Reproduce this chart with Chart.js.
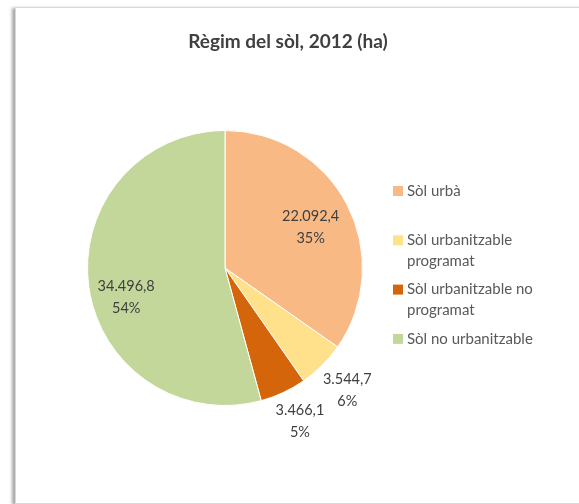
<!DOCTYPE html>
<html>
<head>
<meta charset="utf-8">
<script src="https://cdn.jsdelivr.net/npm/chart.js@4/dist/chart.umd.min.js"></script>
<style>
  html, body { margin: 0; padding: 0; background: #fff; }
  #wrap { position: relative; width: 579px; height: 504px; overflow: hidden; }
  #frame {
    position: absolute; left: 15px; top: 7px; width: 640px; height: 495px;
    border: 1px solid #d9d9d9; box-shadow: -3px 1px 3px rgba(0,0,0,0.35); background: #fff;
  }
  #chart { position: absolute; left: 0; top: 0; }
</style>
</head>
<body>
<div id="wrap">
  <div id="frame"></div>
  <canvas id="chart" width="579" height="504"></canvas>
</div>
<script>
  const TITLE = 'Règim del sòl, 2012 (ha)';
  const categories = ['Sòl urbà', 'Sòl urbanitzable programat', 'Sòl urbanitzable no programat', 'Sòl no urbanitzable'];
  const values = [22092.4, 3544.7, 3466.1, 34496.8];
  const colors = ['#F9B985', '#FFE08B', '#D5650B', '#C4D79B'];

  // label placement per slice: radius factor and angle shift (degrees)
  const labelPlace = [
    { r: 0.69, shift: 2 },
    { r: 1.26, shift: 0 },
    { r: 1.24, shift: -1 },
    { r: 0.75, shift: -9 }
  ];

  const FONT = 'Lato, "Open Sans", sans-serif';

  function fmtNum(n) {
    const parts = n.toFixed(1).split('.');
    const intPart = parts[0].replace(/\B(?=(\d{3})+(?!\d))/g, '.');
    return intPart + ',' + parts[1];
  }

  function wrapText(ctx, text, maxW) {
    const words = text.split(' ');
    const lines = [];
    let line = '';
    words.forEach(w => {
      const test = line ? line + ' ' + w : w;
      if (ctx.measureText(test).width > maxW && line) {
        lines.push(line);
        line = w;
      } else {
        line = test;
      }
    });
    if (line) lines.push(line);
    return lines;
  }

  const decorPlugin = {
    id: 'decor',
    afterDatasetsDraw(chart) {
      const ctx = chart.ctx;
      const meta = chart.getDatasetMeta(0);
      const data = chart.data.datasets[0].data;
      const total = data.reduce((a, b) => a + b, 0);

      ctx.save();
      // title
      ctx.fillStyle = '#404040';
      ctx.font = 'bold 19px ' + FONT;
      ctx.textAlign = 'center';
      ctx.textBaseline = 'middle';
      ctx.fillText(TITLE, 288, 42);

      // data labels
      ctx.font = '14.5px ' + FONT;
      ctx.fillStyle = '#404040';
      meta.data.forEach((arc, i) => {
        const p = arc.getProps(['x', 'y', 'startAngle', 'endAngle', 'outerRadius'], true);
        const place = labelPlace[i];
        const a = (p.startAngle + p.endAngle) / 2 + place.shift * Math.PI / 180;
        const cx = p.x + Math.cos(a) * p.outerRadius * place.r;
        const cy = p.y + Math.sin(a) * p.outerRadius * place.r;
        const pct = Math.round(data[i] / total * 100) + '%';
        ctx.fillText(fmtNum(data[i]), cx, cy - 11);
        ctx.fillText(pct, cx, cy + 11);
      });

      // legend
      ctx.font = '15px ' + FONT;
      ctx.textAlign = 'left';
      chart.data.labels.forEach((lab, i) => {
        const y0 = 191 + i * 49.3;
        ctx.fillStyle = colors[i];
        ctx.fillRect(393, y0 - 5, 10, 10);
        ctx.fillStyle = '#595959';
        const lines = wrapText(ctx, lab, 140);
        lines.forEach((ln, k) => ctx.fillText(ln, 407, y0 + k * 20.5));
      });
      ctx.restore();
    }
  };

  new Chart(document.getElementById('chart'), {
    type: 'pie',
    data: {
      labels: categories,
      datasets: [{
        data: values,
        backgroundColor: colors,
        borderColor: '#ffffff',
        borderWidth: 1
      }]
    },
    options: {
      responsive: false,
      animation: false,
      layout: { padding: { top: 130, bottom: 98, left: 87, right: 216 } },
      plugins: {
        legend: { display: false },
        title: { display: false },
        tooltip: { enabled: false }
      }
    },
    plugins: [decorPlugin]
  });
</script>
</body>
</html>
